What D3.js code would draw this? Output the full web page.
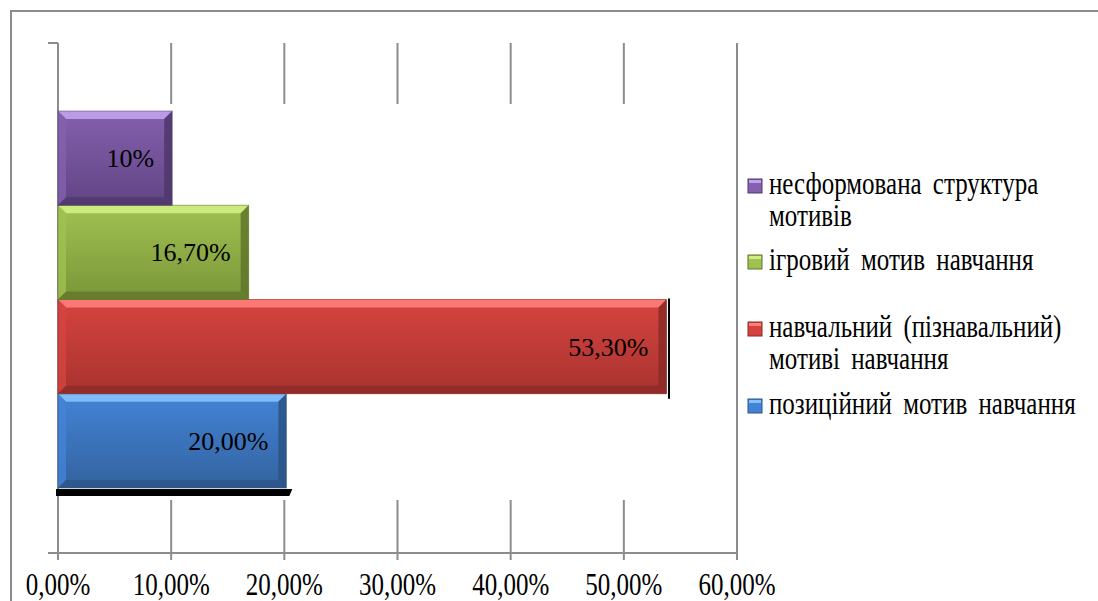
<!DOCTYPE html>
<html>
<head>
<meta charset="utf-8">
<script src="https://cdn.jsdelivr.net/npm/d3@7"></script>
<style>
  html, body { margin: 0; padding: 0; background: #fff; }
</style>
</head>
<body>
<div id="grafico"></div>
<script>
// data, bottom bar first (as Excel plots series)
const categories = ["позиційний мотив навчання",
                    "навчальний (пізнавальний) мотиві навчання",
                    "ігровий мотив навчання",
                    "несформована структура мотивів"];
const values     = [20.0, 53.3, 16.7, 10];
const valueLabels = ["20,00%", "53,30%", "16,70%", "10%"];
const legendLines = [["позиційний мотив навчання"],
                     ["навчальний (пізнавальний)", "мотиві навчання"],
                     ["ігровий мотив навчання"],
                     ["несформована структура", "мотивів"]];
const tickValues = [0, 10, 20, 30, 40, 50, 60];
const tickLabels = ["0,00%", "10,00%", "20,00%", "30,00%", "40,00%", "50,00%", "60,00%"];

const colors = [
  { top: "#86c0ff", main: "#4383d6", low: "#33639f", edge: "#2c5385" },
  { top: "#ff807a", main: "#d6433f", low: "#a8332f", edge: "#8a2a27" },
  { top: "#d2ee82", main: "#a0c151", low: "#7a9638", edge: "#5f762a" },
  { top: "#c0a2ee", main: "#8560ae", low: "#614584", edge: "#4e376b" }
];

const FONT = "Liberation Serif";
const W = 1098, H = 601;
const plot = { left: 58, right: 737, top: 43, bottom: 553 };
const barTop = 111, barBottom = 488;
const gridColor = "#8c8c8c";

const svg = d3.select("#grafico")
              .append("svg")
              .attr("width", W)
              .attr("height", H);

svg.append("rect")
   .attr("width", W).attr("height", H)
   .attr("fill", "#fff");

// outer chart frame (only left + top visible)
svg.append("path")
   .attr("d", `M11,${H} L11,11 L${W},11`)
   .attr("fill", "none")
   .attr("stroke", gridColor)
   .attr("stroke-width", 2);

const xScale = d3.scaleLinear()
                 .domain([0, 60])
                 .range([plot.left, plot.right]);

// bars sit on the 3D front plane, a little wider than the back wall grid
const barScale = xScale.copy()
                       .range([plot.left, plot.right + 6]);

const yScale = d3.scaleBand()
                 .domain(d3.range(categories.length))
                 .range([barBottom, barTop])
                 .paddingInner(0)
                 .paddingOuter(0);

// gridlines: visible above and below the bars only
const grid = svg.append("g");
tickValues.forEach((t, i) => {
  const x = xScale(t);
  if (i === 0 || i === tickValues.length - 1) {
    grid.append("line")
        .attr("x1", x).attr("x2", x)
        .attr("y1", plot.top).attr("y2", plot.bottom + 7)
        .attr("stroke", gridColor).attr("stroke-width", 2);
  } else {
    grid.append("line")
        .attr("x1", x).attr("x2", x)
        .attr("y1", plot.top).attr("y2", plot.top + 61)
        .attr("stroke", gridColor).attr("stroke-width", 2);
    grid.append("line")
        .attr("x1", x).attr("x2", x)
        .attr("y1", barBottom + 12).attr("y2", plot.bottom + 7)
        .attr("stroke", gridColor).attr("stroke-width", 2);
  }
});

// small stub at the top of the value axis
grid.append("line")
    .attr("x1", plot.left - 10).attr("x2", plot.left)
    .attr("y1", plot.top).attr("y2", plot.top)
    .attr("stroke", gridColor).attr("stroke-width", 2);

// category axis line at the bottom
const xAxisCall = d3.axisBottom(xScale)
                    .tickValues(tickValues)
                    .tickSize(0)
                    .tickFormat("");
const xAxis = svg.append("g")
                 .attr("transform", `translate(0, ${plot.bottom})`)
                 .call(xAxisCall);
xAxis.select(".domain")
     .attr("d", `M${plot.left - 10},0H${plot.right}`)
     .attr("stroke", gridColor)
     .attr("stroke-width", 2);

svg.append("g")
   .selectAll("text")
   .data(tickValues)
   .join("text")
   .attr("transform", d => `translate(${xScale(d)}, 595) scale(1, 1.3)`)
   .attr("text-anchor", "middle")
   .attr("font-family", FONT)
   .attr("font-size", 25)
   .attr("fill", "#000")
   .text((d, i) => tickLabels[i]);

// dark 3D artifacts: shadow under bottom bar, edge on the longest bar
const x0 = barScale(0);
const xb = barScale(values[0]);
svg.append("path")
   .attr("d", `M${x0 - 2},${barBottom + 1} H${xb + 6} L${xb + 3},${barBottom + 8} H${x0 - 2} Z`)
   .attr("fill", "#000");

const iMax = d3.maxIndex(values);
svg.append("line")
   .attr("x1", barScale(values[iMax]) + 2.5).attr("x2", barScale(values[iMax]) + 2.5)
   .attr("y1", yScale(iMax) - 1).attr("y2", yScale(iMax) + yScale.bandwidth() + 5)
   .attr("stroke", "#000").attr("stroke-width", 2);

// gradients
const defs = svg.append("defs");
colors.forEach((c, i) => {
  const g = defs.append("linearGradient")
                .attr("id", `grad${i}`)
                .attr("x1", 0).attr("y1", 0).attr("x2", 0).attr("y2", 1);
  g.append("stop").attr("offset", "0%").attr("stop-color", c.main);
  g.append("stop").attr("offset", "100%").attr("stop-color", c.low);
});

// bars with a bevel
const bevel = 8;
const bars = svg.append("g")
                .selectAll("g")
                .data(values)
                .join("g");

bars.each(function (d, i) {
  const g = d3.select(this);
  const c = colors[i];
  const xa = barScale(0), xe = barScale(d);
  const ya = yScale(i), ye = yScale(i) + yScale.bandwidth();

  g.append("rect")
   .attr("x", xa).attr("y", ya)
   .attr("width", xe - xa).attr("height", ye - ya)
   .attr("fill", `url(#grad${i})`);

  // top bevel (light)
  g.append("path")
   .attr("d", `M${xa},${ya} H${xe} L${xe - bevel},${ya + bevel} H${xa + bevel} Z`)
   .attr("fill", c.top)
   .attr("opacity", 0.9);
  // left bevel
  g.append("path")
   .attr("d", `M${xa},${ya} L${xa + bevel},${ya + bevel} V${ye - bevel} L${xa},${ye} Z`)
   .attr("fill", c.main)
   .attr("opacity", 0.8);
  // bottom bevel (dark)
  g.append("path")
   .attr("d", `M${xa},${ye} H${xe} L${xe - bevel},${ye - bevel} H${xa + bevel} Z`)
   .attr("fill", c.edge)
   .attr("opacity", 0.75);
  // right bevel (dark)
  g.append("path")
   .attr("d", `M${xe},${ya} L${xe - bevel},${ya + bevel} V${ye - bevel} L${xe},${ye} Z`)
   .attr("fill", c.edge)
   .attr("opacity", 0.85);

  g.append("rect")
   .attr("x", xa).attr("y", ya)
   .attr("width", xe - xa).attr("height", ye - ya)
   .attr("fill", "none")
   .attr("stroke", c.edge)
   .attr("stroke-opacity", 0.5)
   .attr("stroke-width", 1);

  g.append("text")
   .attr("x", xe - 18)
   .attr("y", (ya + ye) / 2 + 9)
   .attr("text-anchor", "end")
   .attr("font-family", FONT)
   .attr("font-size", 26)
   .attr("fill", "#000")
   .text(valueLabels[i]);
});

// legend (reverse order, top = last series)
const legendY = [406, 329, 262, 186];
const legend = svg.append("g");
categories.forEach((cat, i) => {
  const c = colors[i];
  const cy = legendY[i];
  const lg = legend.append("g");
  lg.append("rect")
    .attr("x", 748).attr("y", cy - 7)
    .attr("width", 14).attr("height", 14)
    .attr("fill", c.main)
    .attr("stroke", c.edge)
    .attr("stroke-width", 1);
  lg.append("rect")
    .attr("x", 749).attr("y", cy - 6)
    .attr("width", 12).attr("height", 3)
    .attr("fill", c.top);
  legendLines[i].forEach((line, k) => {
    lg.append("text")
      .attr("transform", `translate(769, ${cy + 8 + k * 32}) scale(1, 1.25)`)
      .attr("font-family", FONT)
      .attr("font-size", 25)
      .attr("word-spacing", 5)
      .attr("fill", "#000")
      .text(line);
  });
});
</script>
</body>
</html>
